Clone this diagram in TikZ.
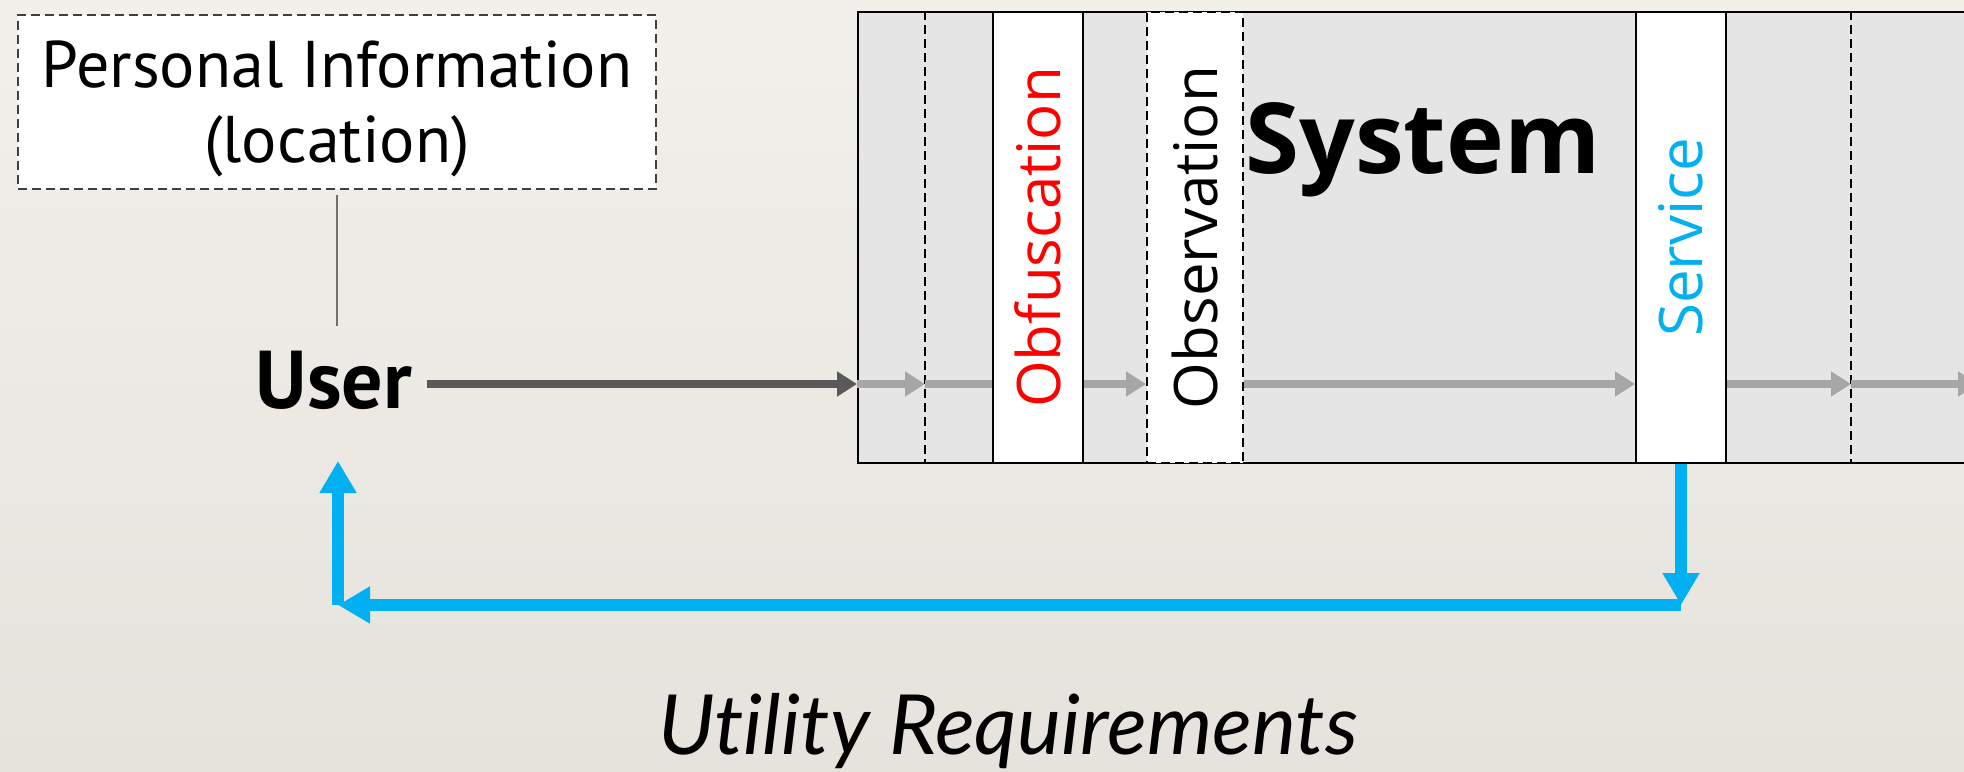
\documentclass[tikz,border=0pt]{standalone}
\usepackage{fontspec}
\setmainfont{PT Sans}
\newfontfamily\stagefamily{Open Sans}
\newfontfamily\notefamily[Ligatures=NoCommon]{Lato}
\usetikzlibrary{arrows.meta}

\definecolor{paperTop}{HTML}{F2F0EB}
\definecolor{paperBot}{HTML}{E6E3DD}
\definecolor{sysgray}{HTML}{E5E5E5}
\definecolor{flowgray}{HTML}{A6A6A6}
\definecolor{usergray}{HTML}{595959}
\definecolor{feedblue}{HTML}{00B0F0}
\definecolor{obfred}{HTML}{FF0000}
\definecolor{infogray}{HTML}{404040}
\definecolor{linkgray}{HTML}{707070}

\begin{document}
\begin{tikzpicture}[x=0.5pt,y=-0.5pt,
  frame/.style={draw=black,line width=1pt},
  stage/.style={frame,fill=white,minimum width=45pt,minimum height=225.5pt,
    inner sep=0pt,anchor=north west,font=\stagefamily\fontsize{30}{36}\selectfont},
  divider/.style={draw=black,line width=0.9pt,dash pattern=on 4.5pt off 2.5pt},
  flow/.style={draw=flowgray,line width=4pt,-{Triangle[length=10pt,width=12pt]}},
  feed/.style={draw=feedblue,line width=5.75pt,-{Triangle[length=16pt,width=17.5pt]}},
]
\clip (0,0) rectangle (1964,771);
\shade[top color=paperTop,bottom color=paperBot] (0,0) rectangle (1964,771);

% the system block with its stages
\node[frame,fill=sysgray,minimum width=571.5pt,minimum height=225.5pt,
  inner sep=0pt,anchor=north west] (sys) at (857,11) {};
\node[stage] (obf) at (992,11) {\rotatebox{90}{\textcolor{obfred}{Obfuscation}}};
\node[stage,minimum width=48pt,dash pattern=on 4.5pt off 2.5pt] (obs) at (1146,11)
  {\rotatebox{90}{Observation}};
\node[stage] (srv) at (1635,11) {\rotatebox{90}{\textcolor{feedblue}{Service}}};
\node[font=\stagefamily\bfseries\fontsize{49}{59}\selectfont,anchor=base west,
  inner sep=0pt] (systxt) at (1245,173) {System};

% dashed boundaries inside the system
\coordinate (d1) at (925,384);
\coordinate (d2) at (1851,384);
\coordinate (out) at (1978,384);
\draw[divider] (d1 |- sys.north) -- (d1 |- sys.south);
\draw[divider] (d2 |- sys.north) -- (d2 |- sys.south);

% user and personal information
\node[draw=infogray,line width=0.75pt,dash pattern=on 4.5pt off 2.5pt,fill=white,
  minimum width=319pt,minimum height=87pt,inner sep=0pt] (info) at (337,102) {};
\node[font=\fontsize{33}{37.5}\selectfont,align=center,inner sep=0pt]
  (infotext) at ([yshift=-3.5pt]info.center) {Personal Information\\(location)};
\node[font=\bfseries\fontsize{41}{47}\selectfont,anchor=base,inner sep=0pt]
  (user) at (334,408) {User};
\draw[draw=linkgray,line width=0.75pt,shorten <=2.5pt,shorten >=12pt]
  (info.south) -- (info.south |- user.north);

% data flow through the system
\draw[draw=usergray,line width=4pt,-{Triangle[length=10pt,width=12pt]},shorten <=7pt]
  (user.east |- d1) -- (sys.west |- d1);
\draw[flow] (sys.west |- d1) -- (d1);
\draw[flow,-] (d1) -- (obf.west |- d1);
\draw[flow] (obf.east |- d1) -- (obs.west |- d1);
\draw[flow] (obs.east |- d1) -- (srv.west |- d1);
\draw[flow] (srv.east |- d1) -- (d2);
\draw[flow] (d2) -- (out);

% feedback from the service back to the user
\coordinate (c2) at (338,605);
\coordinate (uin) at (338,461);
\draw[feed] (srv.south) -- (srv.south |- c2);
\draw[feed] (srv.south |- c2) -- (c2);
\draw[feed] (c2) -- (uin);

\node[font=\notefamily\itshape\fontsize{41.5}{48}\selectfont,anchor=base,inner sep=0pt]
  (util) at (1008,754) {Utility Requirements};
\end{tikzpicture}
\end{document}
